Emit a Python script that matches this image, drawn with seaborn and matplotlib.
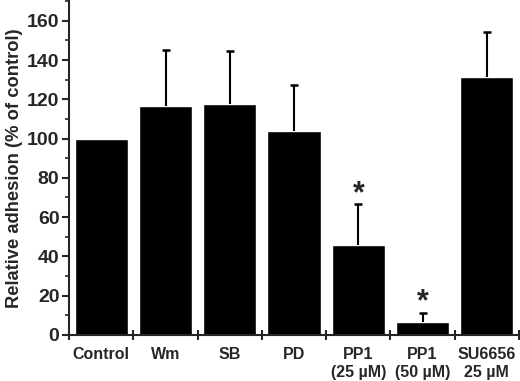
import numpy as np
import pandas as pd
import seaborn as sns
import matplotlib.pyplot as plt
from matplotlib.ticker import MultipleLocator, FixedLocator, NullFormatter

categories = ["Control", "Wm", "SB", "PD", "PP1\n(25 µM)", "PP1\n(50 µM)", "SU6656\n25 µM"]
adhesion = [100.0, 116.6, 117.4, 103.7, 46.0, 6.8, 131.3]
upper_err = [0.0, 28.6, 27.0, 23.6, 20.5, 4.6, 23.2]
significant = [False, False, False, False, True, True, False]

sns.set_style("ticks")
plt.rcParams["font.family"] = ["Liberation Sans", "DejaVu Sans"]
plt.rcParams["font.weight"] = "bold"

df = pd.DataFrame({"treatment": categories, "adhesion": adhesion})

fig = plt.figure(figsize=(5.2, 3.81), dpi=100)
ax = fig.add_axes([0.133, 0.121, 0.865, 0.876])
sns.barplot(data=df, x="treatment", y="adhesion", color="black", saturation=1,
            width=0.83, errorbar=None, ax=ax)

# upper-only error bars
pos = np.arange(len(categories))
tops = np.array(adhesion) + np.array(upper_err)
has_err = np.array(upper_err) > 0
ax.vlines(pos[has_err], np.array(adhesion)[has_err], tops[has_err],
          color="black", linewidth=1.5)
ax.scatter(pos[has_err], tops[has_err], marker="_", s=40, color="black",
           linewidths=1.8, zorder=3)

for x, t, s in zip(pos, tops, significant):
    if s:
        ax.text(x, t - 2.5, "*", ha="center", va="bottom", fontsize=22,
                fontweight="bold")

ax.set_xlim(-0.5, len(categories) - 0.5)
ax.set_ylim(0, 170)
ax.yaxis.set_major_locator(FixedLocator(range(0, 161, 20)))
ax.yaxis.set_minor_locator(MultipleLocator(10))

# boundary ticks on x, labels at bar centres
ax.xaxis.set_major_locator(FixedLocator(np.arange(-0.5, len(categories), 1.0)))
ax.xaxis.set_major_formatter(NullFormatter())
ax.xaxis.set_minor_locator(FixedLocator(pos))
ax.set_xticklabels(categories, minor=True)
ax.tick_params(axis="x", which="major", direction="inout", length=7, width=1.5)
ax.tick_params(axis="x", which="minor", length=0, pad=9, labelsize=11.5)
ax.tick_params(axis="y", which="major", direction="out", length=5, width=1.5,
               labelsize=14, pad=2)
ax.tick_params(axis="y", which="minor", direction="out", length=3, width=1.2)

ax.set_xlabel("")
ax.set_ylabel("Relative adhesion (% of control)", fontsize=13.2,
              fontweight="bold", labelpad=3)
sns.despine(ax=ax)
for sp in ["left", "bottom"]:
    ax.spines[sp].set_linewidth(1.5)

fig.savefig("out.png", dpi=100)
